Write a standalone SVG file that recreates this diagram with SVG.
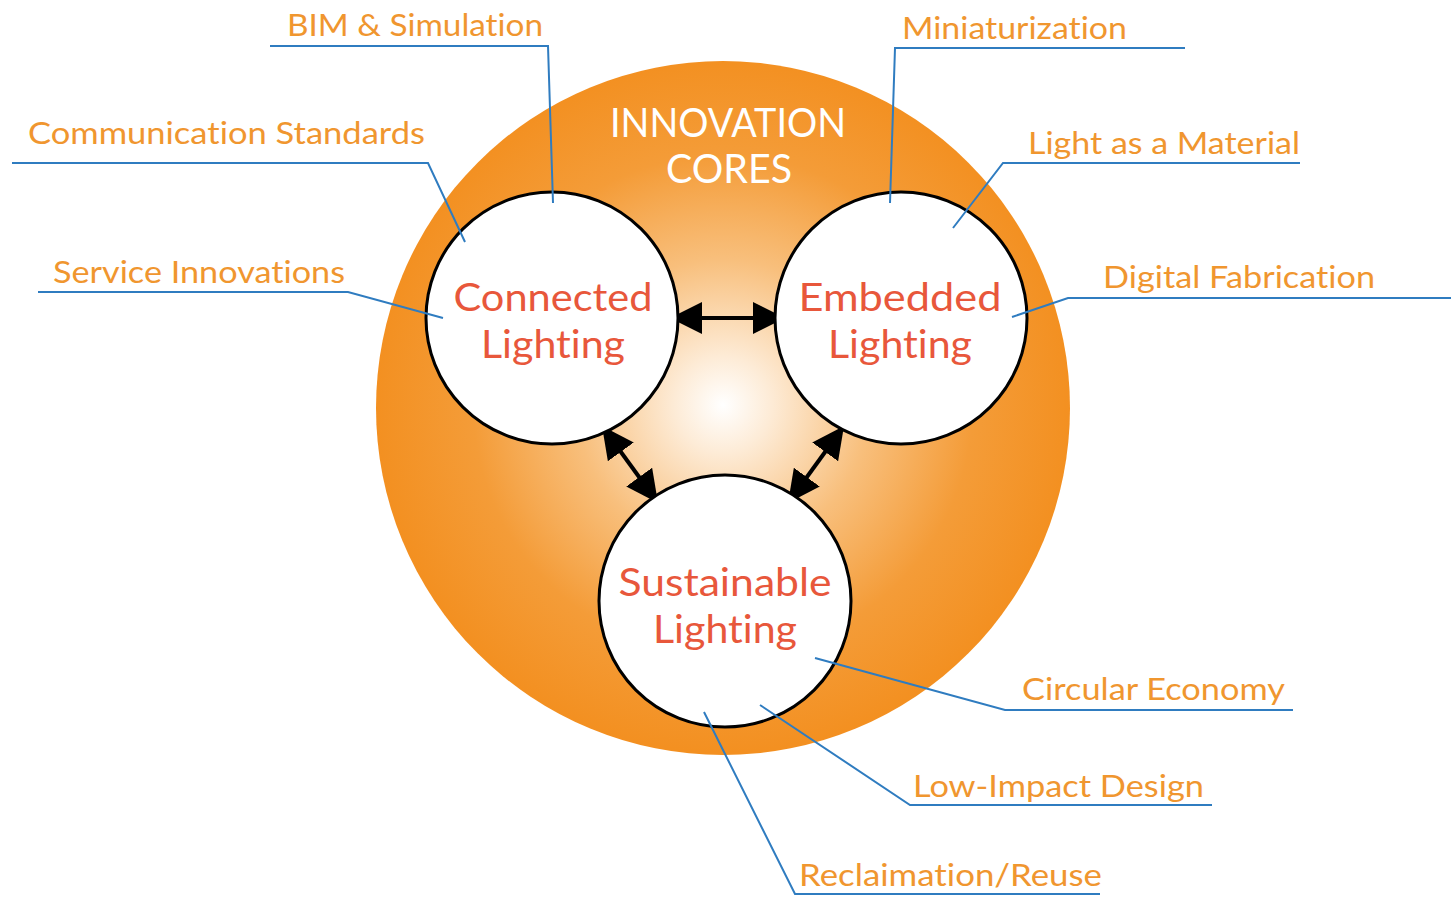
<svg xmlns="http://www.w3.org/2000/svg" width="1451" height="897" viewBox="0 0 1451 897">
<style>
text{font-variant-ligatures:none;font-feature-settings:"liga" 0,"dlig" 0,"clig" 0}
.lbl{font-family:Lato,"Open Sans","Liberation Sans",sans-serif;font-size:31px;fill:#f0962f}
.nt{font-family:Lato,"Open Sans","Liberation Sans",sans-serif;font-size:38px;fill:#e8573b;text-anchor:middle}
.core{font-family:Lato,"Open Sans","Liberation Sans",sans-serif;font-size:40px;fill:#ffffff;text-anchor:middle}
.lead{fill:none;stroke:#2f7cc0;stroke-width:2}
.node{fill:#ffffff;stroke:#000000;stroke-width:3}
.arr{stroke:#000;stroke-width:4;fill:none;marker-start:url(#ah);marker-end:url(#ah)}
</style>
<defs>
<radialGradient id="g" cx="723" cy="405" r="347" gradientUnits="userSpaceOnUse">
<stop offset="0" stop-color="#ffffff"/>
<stop offset="0.14" stop-color="#fdebd6"/>
<stop offset="0.42" stop-color="#f8bf7c"/>
<stop offset="0.72" stop-color="#f49c38"/>
<stop offset="1" stop-color="#f39021"/>
</radialGradient>
<marker id="ah" viewBox="0 0 32 32" refX="32" refY="16" markerWidth="32" markerHeight="32" markerUnits="userSpaceOnUse" orient="auto-start-reverse">
<path d="M0,0 L32,16 L0,32 Z" fill="#000"/>
</marker>
</defs>
<rect width="1451" height="897" fill="#ffffff"/>
<g id="core">
<circle cx="723" cy="408" r="347" fill="url(#g)"/>
<text class="core" x="728" y="137" textLength="236" lengthAdjust="spacingAndGlyphs">INNOVATION</text>
<text class="core" x="729" y="183" textLength="126" lengthAdjust="spacingAndGlyphs">CORES</text>
</g>
<g id="connectors">
<line class="arr" x1="670" y1="318" x2="785" y2="318"/>
<line class="arr" x1="602" y1="426" x2="658" y2="503"/>
<line class="arr" x1="844" y1="426" x2="788" y2="503"/>
</g>
<g id="connected">
<circle class="node" cx="552" cy="318" r="126"/>
<text class="nt" x="553" y="311" textLength="199" lengthAdjust="spacingAndGlyphs">Connected</text>
<text class="nt" x="553" y="358" textLength="144" lengthAdjust="spacingAndGlyphs">Lighting</text>
</g>
<g id="embedded">
<circle class="node" cx="901" cy="318" r="126"/>
<text class="nt" x="900" y="311" textLength="203" lengthAdjust="spacingAndGlyphs">Embedded</text>
<text class="nt" x="900" y="358" textLength="144" lengthAdjust="spacingAndGlyphs">Lighting</text>
</g>
<g id="sustainable">
<circle class="node" cx="725" cy="601" r="126"/>
<text class="nt" x="725" y="596" textLength="213" lengthAdjust="spacingAndGlyphs">Sustainable</text>
<text class="nt" x="725" y="643" textLength="144" lengthAdjust="spacingAndGlyphs">Lighting</text>
</g>
<g id="leaders">
<polyline class="lead" points="270,46 548,46 553,203"/>
<polyline class="lead" points="12,163 428,163 465,242"/>
<polyline class="lead" points="38,292 348,292 443,318"/>
<polyline class="lead" points="1185,48 895,48 890,203"/>
<polyline class="lead" points="1300,163 1003,163 953,228"/>
<polyline class="lead" points="1451,298 1068,298 1012,317"/>
<polyline class="lead" points="815,658 1005,710 1293,710"/>
<polyline class="lead" points="760,705 910,805 1212,805"/>
<polyline class="lead" points="704,712 795,894 1100,894"/>
</g>
<g id="labels">
<text class="lbl" x="287" y="36" textLength="256" lengthAdjust="spacingAndGlyphs">BIM &amp; Simulation</text>
<text class="lbl" x="28" y="144" textLength="397" lengthAdjust="spacingAndGlyphs">Communication Standards</text>
<text class="lbl" x="53" y="283" textLength="292" lengthAdjust="spacingAndGlyphs">Service Innovations</text>
<text class="lbl" x="902" y="39" textLength="225" lengthAdjust="spacingAndGlyphs">Miniaturization</text>
<text class="lbl" x="1028" y="154" textLength="272" lengthAdjust="spacingAndGlyphs">Light as a Material</text>
<text class="lbl" x="1103" y="288" textLength="272" lengthAdjust="spacingAndGlyphs">Digital Fabrication</text>
<text class="lbl" x="1022" y="700" textLength="263" lengthAdjust="spacingAndGlyphs">Circular Economy</text>
<text class="lbl" x="913" y="797" textLength="291" lengthAdjust="spacingAndGlyphs">Low-Impact Design</text>
<text class="lbl" x="799" y="886" textLength="303" lengthAdjust="spacingAndGlyphs">Reclaimation/Reuse</text>
</g>
</svg>
